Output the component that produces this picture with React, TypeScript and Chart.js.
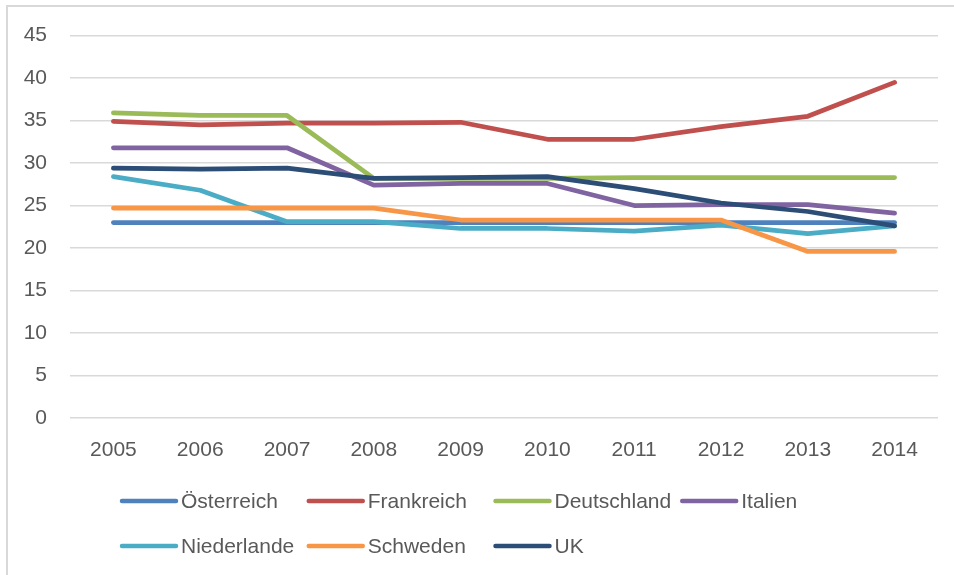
import React, { useEffect, useRef } from "react";
import { Chart, registerables } from "chart.js";

Chart.register(...registerables);

const years = ["2005", "2006", "2007", "2008", "2009", "2010", "2011", "2012", "2013", "2014"];
const oesterreich = [23.0, 23.0, 23.0, 23.0, 23.0, 23.0, 23.0, 23.0, 23.0, 23.0];
const frankreich = [34.9, 34.5, 34.7, 34.7, 34.8, 32.8, 32.8, 34.3, 35.5, 39.5];
const deutschland = [35.9, 35.6, 35.6, 28.2, 28.2, 28.2, 28.3, 28.3, 28.3, 28.3];
const italien = [31.8, 31.8, 31.8, 27.4, 27.6, 27.6, 25.0, 25.1, 25.1, 24.1];
const niederlande = [28.4, 26.8, 23.1, 23.1, 22.3, 22.3, 22.0, 22.7, 21.7, 22.6];
const schweden = [24.7, 24.7, 24.7, 24.7, 23.3, 23.3, 23.3, 23.3, 19.6, 19.6];
const uk = [29.4, 29.3, 29.4, 28.2, 28.3, 28.4, 27.0, 25.3, 24.3, 22.6];

const seriesNames = ["Österreich", "Frankreich", "Deutschland", "Italien", "Niederlande", "Schweden", "UK"];
const seriesValues = [oesterreich, frankreich, deutschland, italien, niederlande, schweden, uk];
const seriesColors = ["#4F81BD", "#C0504D", "#9BBB59", "#8064A2", "#4BACC6", "#F79646", "#2C4D75"];

const yTicks = [0, 5, 10, 15, 20, 25, 30, 35, 40, 45];

const FONT = "'Liberation Sans', Arial, sans-serif";
const TEXT = "#595959";
const GRID = "#D9D9D9";

const gridLegend = {
  id: "gridLegend",
  afterDraw(chart: any) {
    const ctx = chart.ctx;
    ctx.save();
    ctx.font = `21px ${FONT}`;
    const lineLen = 54;
    const gap = 5;
    let maxW = 0;
    chart.data.datasets.forEach((d: any) => {
      maxW = Math.max(maxW, ctx.measureText(d.label).width);
    });
    const colW = lineLen + gap + maxW + 11;
    const startX = 122;
    const rowsY = [501, 546];
    const perRow = 4;
    chart.data.datasets.forEach((d: any, i: number) => {
      const row = Math.floor(i / perRow);
      const col = i % perRow;
      const x = startX + col * colW;
      const y = rowsY[row];
      ctx.strokeStyle = d.borderColor;
      ctx.lineWidth = 4.5;
      ctx.lineCap = "round";
      ctx.beginPath();
      ctx.moveTo(x, y);
      ctx.lineTo(x + lineLen, y);
      ctx.stroke();
      ctx.fillStyle = TEXT;
      ctx.textAlign = "left";
      ctx.textBaseline = "middle";
      ctx.fillText(d.label, x + lineLen + gap, y + 1);
    });
    ctx.restore();
  },
};

const frame = {
  id: "frame",
  beforeDraw(chart: any) {
    const ctx = chart.ctx;
    ctx.save();
    ctx.fillStyle = "#FFFFFF";
    ctx.fillRect(0, 0, chart.width, chart.height);
    ctx.strokeStyle = GRID;
    ctx.lineWidth = 2;
    ctx.beginPath();
    ctx.moveTo(7, chart.height);
    ctx.lineTo(7, 6);
    ctx.lineTo(chart.width, 6);
    ctx.stroke();
    ctx.restore();
  },
};

export default function App() {
  const ref = useRef<HTMLCanvasElement | null>(null);
  useEffect(() => {
    if (!ref.current) return;
    const n = seriesNames.length;
    const chart = new Chart(ref.current, {
      type: "line",
      data: {
        labels: years,
        datasets: seriesNames.map((name, i) => ({
          label: name,
          data: seriesValues[i],
          borderColor: seriesColors[i],
          backgroundColor: seriesColors[i],
          borderWidth: 4.75,
          borderCapStyle: "round" as const,
          borderJoinStyle: "round" as const,
          pointRadius: 0,
          tension: 0,
          fill: false,
          order: n - i,
        })),
      },
      options: {
        animation: false,
        responsive: false,
        maintainAspectRatio: false,
        layout: { padding: { left: 10, top: 35, right: 16, bottom: 107 } },
        plugins: {
          legend: { display: false },
          tooltip: { enabled: false },
        },
        scales: {
          x: {
            offset: true,
            grid: { display: false, drawTicks: false },
            border: { display: false },
            ticks: {
              color: TEXT,
              font: { family: FONT, size: 21 },
              padding: 20,
              maxRotation: 0,
              autoSkip: false,
            },
            afterFit(scale: any) {
              scale.height = 50;
            },
          },
          y: {
            min: 0,
            max: 45,
            afterBuildTicks(scale: any) {
              scale.ticks = yTicks.map((v) => ({ value: v }));
            },
            grid: { color: GRID, lineWidth: 1.5, drawTicks: false },
            border: { display: false },
            ticks: {
              color: TEXT,
              font: { family: FONT, size: 21 },
              padding: 23,
            },
            afterFit(scale: any) {
              scale.width = 60;
            },
          },
        },
      },
      plugins: [frame, gridLegend],
    });
    return () => chart.destroy();
  }, []);
  return (
    <div style={{ position: "fixed", left: 0, top: 0, width: 954, height: 575, background: "#fff" }}>
      <canvas ref={ref} width={954} height={575} style={{ display: "block" }} />
    </div>
  );
}
